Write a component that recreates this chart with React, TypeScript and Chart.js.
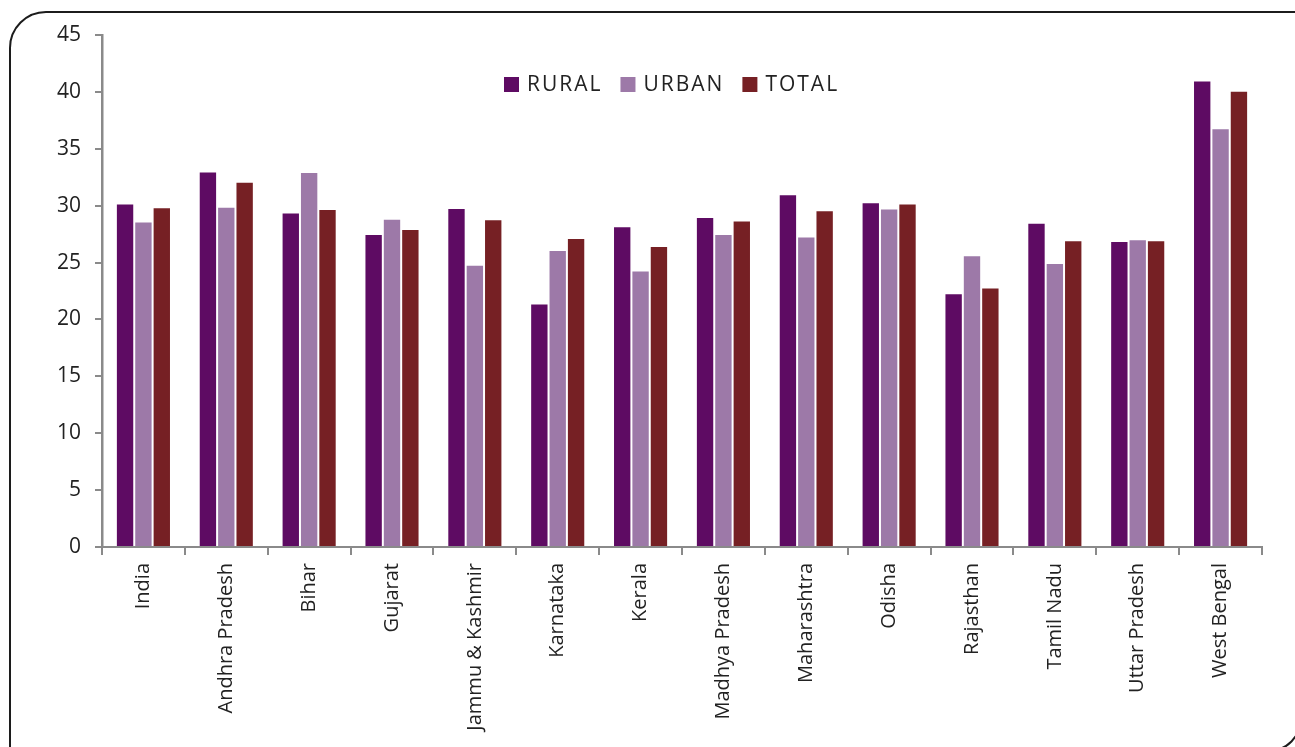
import { useEffect, useRef } from 'react';
import { Chart, registerables } from 'chart.js';
import type { Plugin } from 'chart.js';

Chart.register(...registerables);

// States (categories) and the three series
const STATES = [
  'India', 'Andhra Pradesh', 'Bihar', 'Gujarat', 'Jammu & Kashmir', 'Karnataka', 'Kerala',
  'Madhya Pradesh', 'Maharashtra', 'Odisha', 'Rajasthan', 'Tamil Nadu', 'Uttar Pradesh', 'West Bengal',
];
const RURAL = [30.2, 33.0, 29.4, 27.5, 29.8, 21.4, 28.2, 29.0, 31.0, 30.3, 22.3, 28.5, 26.9, 41.0];
const URBAN = [28.6, 29.9, 32.95, 28.85, 24.8, 26.1, 24.3, 27.5, 27.3, 29.75, 25.65, 24.95, 27.05, 36.8];
const TOTAL = [29.85, 32.1, 29.7, 27.95, 28.8, 27.15, 26.45, 28.7, 29.6, 30.2, 22.8, 26.95, 26.95, 40.1];

const COLORS = { rural: '#5e0b63', urban: '#9d79a8', total: '#762024' };
const FONT = '"Open Sans", "Noto Sans", sans-serif';
const AXIS_GREY = '#8a8a8a';

// legend drawn over the plot, centred near the top like the original
const legendPlugin: Plugin<'bar'> = {
  id: 'topLegend',
  afterDraw(chart) {
    const { ctx } = chart;
    ctx.save();
    ctx.font = `21px ${FONT}`;
    (ctx as any).letterSpacing = '2px';
    ctx.textBaseline = 'middle';
    let x = 504;
    const y = 84.5;
    chart.data.datasets.forEach(ds => {
      ctx.fillStyle = ds.backgroundColor as string;
      ctx.fillRect(x, y - 7.5, 15, 15);
      x += 23;
      ctx.fillStyle = '#222';
      ctx.fillText(ds.label ?? '', x, y + 1);
      x += ctx.measureText(ds.label ?? '').width + 18;
    });
    ctx.restore();
  },
};

export default function App(): JSX.Element {
  const canvasRef = useRef<HTMLCanvasElement>(null);

  useEffect(() => {
    if (!canvasRef.current) return;
    const mk = (label: string, data: number[], color: string) => ({
      label,
      data,
      backgroundColor: color,
      borderColor: 'rgba(255,255,255,0.35)',
      borderWidth: 1,
      categoryPercentage: 0.665,
      barPercentage: 1,
    });

    const chart = new Chart(canvasRef.current, {
      type: 'bar',
      plugins: [legendPlugin],
      data: {
        labels: STATES,
        datasets: [
          mk('RURAL', RURAL, COLORS.rural),
          mk('URBAN', URBAN, COLORS.urban),
          mk('TOTAL', TOTAL, COLORS.total),
        ],
      },
      options: {
        animation: false,
        responsive: true,
        maintainAspectRatio: false,
        layout: { padding: { left: 0, top: 35, right: 33, bottom: 0 } },
        plugins: { legend: { display: false }, tooltip: { enabled: false } },
        scales: {
          x: {
            afterFit: s => { s.height = 200; },
            grid: { offset: true, drawOnChartArea: false, tickLength: 8, color: AXIS_GREY, lineWidth: 2 },
            border: { color: AXIS_GREY, width: 2 },
            ticks: {
              minRotation: 90,
              maxRotation: 90,
              autoSkip: false,
              padding: 8,
              color: '#222',
              font: { family: FONT, size: 20 },
            },
          },
          y: {
            min: 0,
            max: 45,
            afterFit: s => { s.width = 102; },
            grid: { drawOnChartArea: false, tickLength: 7, color: AXIS_GREY, lineWidth: 2 },
            border: { color: AXIS_GREY, width: 2.5 },
            ticks: {
              stepSize: 5,
              padding: 14,
              color: '#222',
              font: { family: FONT, size: 21 },
            },
          },
        },
      },
    });

    return () => { chart.destroy(); };
  }, []);

  return (
    <div style={{ position: 'fixed', inset: 0, overflow: 'hidden', background: '#fff' }}>
      <div style={{ position: 'absolute', left: 0, top: 0, width: 1295, height: 747 }}>
        <canvas ref={canvasRef} role="img" aria-label="Bar chart of rural, urban and total values by state" />
      </div>
      {/* rounded frame, cut by the right and bottom edges of the picture */}
      <div
        style={{
          position: 'absolute',
          left: 9,
          top: 11,
          width: 1294,
          height: 742,
          boxSizing: 'border-box',
          border: '2.5px solid #1c1c1c',
          borderRadius: '37px 6px 37px 0px',
          pointerEvents: 'none',
        }}
      />
    </div>
  );
}
